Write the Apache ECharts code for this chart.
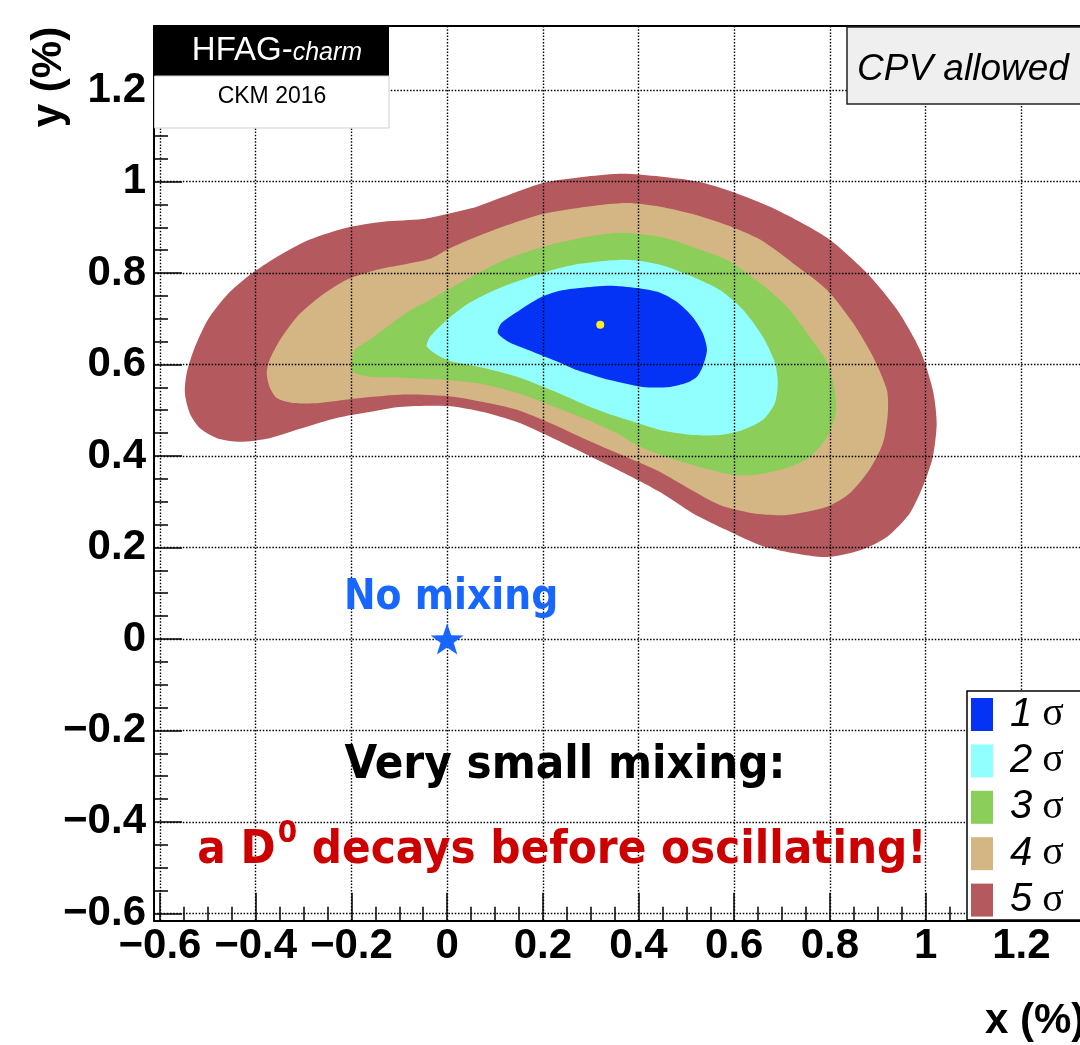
<!DOCTYPE html>
<html>
<head>
<meta charset="utf-8">
<script src="https://cdn.jsdelivr.net/npm/echarts@6/dist/echarts.min.js"></script>
<style>
html,body{margin:0;padding:0;background:#fff;}
#chart{width:1080px;height:1045px;}
</style>
</head>
<body>
<div id="chart"></div>
<script>
// ---------- data (x %, y %) ----------
const xTickValues = [-0.6, -0.4, -0.2, 0, 0.2, 0.4, 0.6, 0.8, 1, 1.2];
const yTickValues = [-0.6, -0.4, -0.2, 0, 0.2, 0.4, 0.6, 0.8, 1, 1.2];
const sigmaNames = ['1 σ', '2 σ', '3 σ', '4 σ', '5 σ'];
const sigmaColors = ['#0433f5', '#90fffd', '#8bcf5a', '#d4b584', '#b45a5f'];

const contour1 = [[0.106,0.669],[0.114,0.691],[0.146,0.715],[0.194,0.746],[0.236,0.761],[0.277,0.767],[0.340,0.772],[0.396,0.767],[0.445,0.757],[0.480,0.737],[0.513,0.704],[0.534,0.669],[0.543,0.632],[0.534,0.595],[0.522,0.573],[0.501,0.560],[0.465,0.551],[0.409,0.551],[0.340,0.566],[0.271,0.588],[0.236,0.604],[0.179,0.628],[0.131,0.648]];
const contour2 = [[-0.042,0.638],[-0.036,0.660],[0.000,0.698],[0.047,0.735],[0.116,0.770],[0.208,0.803],[0.277,0.820],[0.376,0.829],[0.445,0.818],[0.513,0.792],[0.570,0.763],[0.618,0.720],[0.660,0.660],[0.685,0.604],[0.691,0.560],[0.685,0.516],[0.660,0.479],[0.618,0.457],[0.570,0.446],[0.513,0.446],[0.445,0.457],[0.376,0.479],[0.304,0.505],[0.236,0.536],[0.146,0.573],[0.075,0.593],[0.000,0.610]];
const contour3 = [[-0.199,0.606],[-0.193,0.632],[-0.162,0.654],[-0.126,0.682],[-0.078,0.718],[-0.036,0.741],[0.000,0.763],[0.116,0.827],[0.200,0.857],[0.292,0.879],[0.361,0.888],[0.445,0.879],[0.513,0.857],[0.584,0.829],[0.654,0.778],[0.710,0.726],[0.758,0.660],[0.794,0.604],[0.810,0.544],[0.812,0.494],[0.794,0.442],[0.758,0.398],[0.710,0.374],[0.647,0.359],[0.597,0.359],[0.528,0.376],[0.465,0.396],[0.403,0.420],[0.354,0.450],[0.284,0.483],[0.215,0.511],[0.146,0.538],[0.075,0.557],[0.000,0.566],[-0.093,0.571],[-0.162,0.573],[-0.197,0.584]];
const contour4 = [[-0.377,0.582],[-0.371,0.610],[-0.349,0.654],[-0.314,0.704],[-0.266,0.748],[-0.210,0.785],[-0.147,0.807],[-0.093,0.818],[-0.036,0.831],[0.000,0.851],[0.047,0.873],[0.116,0.901],[0.200,0.929],[0.292,0.945],[0.376,0.953],[0.445,0.945],[0.513,0.929],[0.584,0.905],[0.654,0.873],[0.722,0.822],[0.794,0.763],[0.848,0.691],[0.890,0.617],[0.919,0.544],[0.921,0.494],[0.911,0.429],[0.883,0.371],[0.842,0.319],[0.794,0.289],[0.710,0.271],[0.639,0.275],[0.570,0.293],[0.507,0.328],[0.445,0.365],[0.403,0.385],[0.354,0.407],[0.284,0.439],[0.215,0.472],[0.146,0.501],[0.075,0.518],[0.000,0.531],[-0.099,0.534],[-0.197,0.525],[-0.266,0.516],[-0.322,0.516],[-0.356,0.527],[-0.371,0.551]];
const contour5 = [[1.023,0.472],[1.015,0.398],[0.994,0.333],[0.967,0.275],[0.919,0.223],[0.863,0.194],[0.794,0.179],[0.722,0.188],[0.654,0.205],[0.584,0.238],[0.513,0.275],[0.445,0.321],[0.403,0.345],[0.354,0.371],[0.284,0.407],[0.215,0.442],[0.146,0.474],[0.075,0.496],[0.000,0.509],[-0.099,0.507],[-0.162,0.496],[-0.231,0.483],[-0.302,0.461],[-0.371,0.439],[-0.433,0.431],[-0.481,0.439],[-0.517,0.461],[-0.538,0.494],[-0.548,0.538],[-0.544,0.582],[-0.527,0.638],[-0.500,0.698],[-0.460,0.752],[-0.412,0.796],[-0.356,0.835],[-0.287,0.873],[-0.210,0.899],[-0.134,0.912],[-0.051,0.918],[0.000,0.929],[0.062,0.945],[0.116,0.966],[0.200,0.997],[0.292,1.011],[0.367,1.017],[0.445,1.011],[0.528,0.999],[0.597,0.977],[0.689,0.938],[0.794,0.877],[0.877,0.800],[0.940,0.720],[0.988,0.632],[1.015,0.544]];

const bestFit = [[0.32, 0.687]];
const noMixing = [[0, 0]];

// axis ranges
const X_MIN = -0.6125, X_MAX = 1.3225;
const Y_MIN = -0.616, Y_MAX = 1.34;

// minor tick positions (every 0.05 between major ticks)
function minorTicks(max) {
  const out = [];
  for (let i = -12; i * 0.05 <= max + 1e-9; i++) {
    if (i % 4 !== 0) out.push(+(i * 0.05).toFixed(2));
  }
  return out;
}
const xMinor = minorTicks(X_MAX);
const yMinor = minorTicks(Y_MAX);

// ---------- chart ----------
const chart = echarts.init(document.getElementById('chart'), null, {renderer: 'canvas'});
const fmt = v => (Math.round(v * 10) / 10).toString().replace('-', '\u2212');
const labelFont = {fontSize: 42, fontWeight: 'bold', fontFamily: '"Liberation Sans", Arial, sans-serif', color: '#000'};
const annFont = '"DejaVu Sans Condensed", "DejaVu Sans", sans-serif';
const gridDot = {show: true, lineStyle: {type: [1.5, 1.7], color: '#000', width: 1.4}};

function polySeries(name, pts, color) {
  return {
    type: 'custom', name: name, coordinateSystem: 'cartesian2d',
    data: pts, encode: {x: 0, y: 1}, silent: true, z: 2,
    itemStyle: {color: color},
    renderItem: function (params, api) {
      if (params.dataIndex !== 0) return null;
      const points = pts.map(p => api.coord(p));
      return {type: 'polygon', shape: {points: points, smooth: 0.25}, style: {fill: color}};
    }
  };
}

const starPath = 'path://M50,0 L61.8,35.1 L97.6,35.5 L69,57.3 L79.4,91.5 L50,71 L20.6,91.5 L31,57.3 L2.4,35.5 L38.2,35.1 Z';

const option = {
  animation: false,
  backgroundColor: '#fff',
  grid: {left: 154, top: 26, right: 0, bottom: 124.3, containLabel: false, outerBoundsMode: 'none'},
  xAxis: [
    {
      type: 'value', min: X_MIN, max: X_MAX, position: 'bottom', z: 3,
      axisLine: {show: true, onZero: false, lineStyle: {color: '#000', width: 2}},
      axisTick: {show: true, inside: true, length: 28, customValues: xTickValues, lineStyle: {color: '#000', width: 1.5}},
      axisLabel: Object.assign({show: true, margin: 5, customValues: xTickValues, formatter: fmt}, labelFont),
      splitLine: gridDot, minorTick: {show: false}
    },
    {
      type: 'value', min: X_MIN, max: X_MAX, position: 'bottom', z: 3,
      axisLine: {show: false, onZero: false},
      axisTick: {show: true, inside: true, length: 14, customValues: xMinor, lineStyle: {color: '#000', width: 1.5}},
      axisLabel: {show: false}, splitLine: {show: false}
    },
    {
      type: 'value', min: X_MIN, max: X_MAX, position: 'top', z: 3,
      axisLine: {show: true, onZero: false, lineStyle: {color: '#000', width: 2}},
      axisTick: {show: false}, axisLabel: {show: false}, splitLine: {show: false}
    }
  ],
  yAxis: [
    {
      type: 'value', min: Y_MIN, max: Y_MAX, position: 'left', z: 3,
      axisLine: {show: true, onZero: false, lineStyle: {color: '#000', width: 2}},
      axisTick: {show: true, inside: true, length: 28, customValues: yTickValues, lineStyle: {color: '#000', width: 1.5}},
      axisLabel: Object.assign({show: true, margin: 8, customValues: yTickValues, formatter: fmt}, labelFont),
      splitLine: gridDot, minorTick: {show: false}
    },
    {
      type: 'value', min: Y_MIN, max: Y_MAX, position: 'left', z: 3,
      axisLine: {show: false, onZero: false},
      axisTick: {show: true, inside: true, length: 14, customValues: yMinor, lineStyle: {color: '#000', width: 1.5}},
      axisLabel: {show: false}, splitLine: {show: false}
    }
  ],
  legend: {
    data: sigmaNames, orient: 'vertical', left: 967, top: 691,
    itemWidth: 22, itemHeight: 33, itemGap: 6.4, icon: 'rect',
    padding: [3.5, 40, 0, 4], borderColor: '#000', borderWidth: 1.5,
    backgroundColor: '#fff', z: 10, selectedMode: false,
    formatter: function (name) { const p = name.split(' '); return '{n|' + p[0] + '}{s| ' + p[1] + '}'; },
    textStyle: {
      rich: {
        n: {fontSize: 40, fontStyle: 'italic', fontFamily: '"Liberation Sans", Arial, sans-serif', color: '#000', padding: [0, 0, 0, 12], lineHeight: 33},
        s: {fontSize: 40, fontFamily: '"Liberation Serif", serif', color: '#000', lineHeight: 33}
      }
    }
  },
  series: [
    polySeries(sigmaNames[4], contour5, sigmaColors[4]),
    polySeries(sigmaNames[3], contour4, sigmaColors[3]),
    polySeries(sigmaNames[2], contour3, sigmaColors[2]),
    polySeries(sigmaNames[1], contour2, sigmaColors[1]),
    polySeries(sigmaNames[0], contour1, sigmaColors[0]),
    {
      type: 'scatter', name: 'best fit', data: bestFit, symbol: 'circle', symbolSize: 8,
      itemStyle: {color: '#ffee22', opacity: 1}, z: 6, silent: true
    },
    {
      type: 'scatter', name: 'no mixing', data: noMixing, symbol: starPath, symbolSize: [33, 31],
      itemStyle: {color: '#1766ff', opacity: 1}, z: 6, silent: true,
      label: {
        show: true, position: 'top', distance: 4, offset: [4, 0], opacity: 1,
        formatter: 'No mixing', fontSize: 42, fontWeight: 'bold', fontFamily: annFont, color: '#1766ff'
      }
    }
  ],
  graphic: {
    elements: [
      {type: 'rect', z: 10, shape: {x: 154, y: 26, width: 235, height: 50}, style: {fill: '#000'}},
      {type: 'rect', z: 10, shape: {x: 154.5, y: 76, width: 234.5, height: 52}, style: {fill: '#fff', stroke: '#cfcfcf', lineWidth: 1}},
      {type: 'text', z: 11, x: 277, y: 51, style: {
        text: '{a|HFAG-}{b|charm}', fill: '#fff', align: 'center', verticalAlign: 'middle',
        rich: {
          a: {fontSize: 33, fontFamily: '"Liberation Sans", Arial, sans-serif', fill: '#fff'},
          b: {fontSize: 25, fontStyle: 'italic', fontFamily: '"Liberation Sans", Arial, sans-serif', fill: '#fff', padding: [4, 0, 0, 0]}
        }
      }},
      {type: 'text', z: 11, x: 272, y: 97, style: {
        text: 'CKM 2016', fill: '#000', fontSize: 23, fontFamily: '"Liberation Sans", Arial, sans-serif',
        align: 'center', verticalAlign: 'middle'
      }},
      {type: 'rect', z: 10, shape: {x: 847, y: 27, width: 250, height: 77}, style: {fill: '#efefef', stroke: '#222', lineWidth: 1.5}},
      {type: 'text', z: 11, x: 857, y: 70, style: {
        text: 'CPV allowed', fill: '#000', fontSize: 37, fontStyle: 'italic',
        fontFamily: '"Liberation Sans", Arial, sans-serif', align: 'left', verticalAlign: 'middle'
      }},
      {type: 'text', z: 11, x: 985, y: 1021, style: {
        text: 'x (%)', fill: '#000', fontSize: 42, fontWeight: 'bold',
        fontFamily: '"Liberation Sans", Arial, sans-serif', align: 'left', verticalAlign: 'middle'
      }},
      {type: 'text', z: 11, x: 49, y: 77, rotation: Math.PI / 2, style: {
        text: 'y (%)', fill: '#000', fontSize: 42, fontWeight: 'bold',
        fontFamily: '"Liberation Sans", Arial, sans-serif', align: 'center', verticalAlign: 'middle'
      }},
      {type: 'text', z: 11, x: 565, y: 766, style: {
        text: 'Very small mixing:', fill: '#000', fontSize: 47, fontWeight: 'bold',
        fontFamily: annFont, align: 'center', verticalAlign: 'middle'
      }},
      {type: 'text', z: 11, x: 562, y: 851, style: {
        text: '{m|a D}{sup|0}{m| decays before oscillating!}', fill: '#cc0000',
        align: 'center', verticalAlign: 'middle',
        rich: {
          m: {fontSize: 47, fontWeight: 'bold', fontFamily: annFont, fill: '#cc0000'},
          sup: {fontSize: 31, fontWeight: 'bold', fontFamily: annFont, fill: '#cc0000', padding: [0, 0, 34, 2]}
        }
      }}
    ]
  }
};
chart.setOption(option);
</script>
</body>
</html>
